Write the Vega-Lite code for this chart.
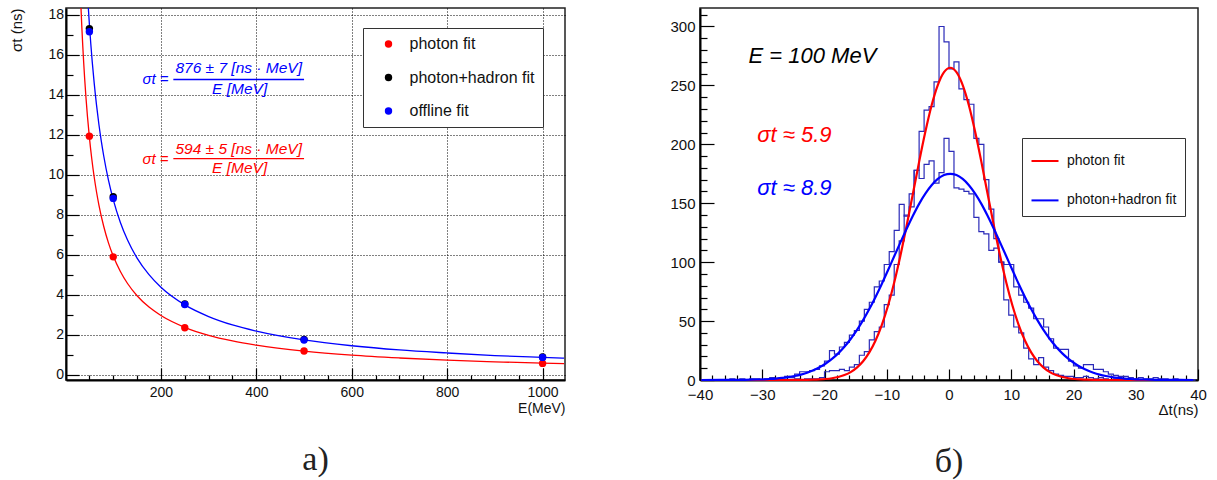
{
"$schema": "https://vega.github.io/schema/vega-lite/v6.json",
"background": "white",
"padding": {"left": 9, "top": 6, "right": 0, "bottom": 0},
"spacing": 103,
"datasets": {
"points": [
{"E":50,"s":11.93,"fit":"photon fit"},{"E":100,"s":5.9,"fit":"photon fit"},{"E":250,"s":2.36,"fit":"photon fit"},{"E":500,"s":1.2,"fit":"photon fit"},{"E":1000,"s":0.58,"fit":"photon fit"},
{"E":50,"s":17.3,"fit":"photon+hadron fit"},{"E":100,"s":8.9,"fit":"photon+hadron fit"},{"E":250,"s":3.55,"fit":"photon+hadron fit"},{"E":500,"s":1.78,"fit":"photon+hadron fit"},{"E":1000,"s":0.9,"fit":"photon+hadron fit"},
{"E":50,"s":17.14,"fit":"offline fit"},{"E":100,"s":8.82,"fit":"offline fit"},{"E":250,"s":3.52,"fit":"offline fit"},{"E":500,"s":1.75,"fit":"offline fit"},{"E":1000,"s":0.88,"fit":"offline fit"}
],
"curves": [
{"E":30,"s":19.8,"fit":"photon fit"},{"E":32,"s":18.56,"fit":"photon fit"},{"E":34,"s":17.47,"fit":"photon fit"},{"E":36,"s":16.5,"fit":"photon fit"},{"E":38,"s":15.63,"fit":"photon fit"},{"E":40,"s":14.85,"fit":"photon fit"},{"E":43,"s":13.81,"fit":"photon fit"},{"E":46,"s":12.91,"fit":"photon fit"},{"E":50,"s":11.88,"fit":"photon fit"},{"E":55,"s":10.8,"fit":"photon fit"},{"E":60,"s":9.9,"fit":"photon fit"},{"E":65,"s":9.14,"fit":"photon fit"},{"E":70,"s":8.49,"fit":"photon fit"},{"E":80,"s":7.43,"fit":"photon fit"},{"E":90,"s":6.6,"fit":"photon fit"},{"E":100,"s":5.94,"fit":"photon fit"},{"E":115,"s":5.17,"fit":"photon fit"},{"E":130,"s":4.57,"fit":"photon fit"},{"E":150,"s":3.96,"fit":"photon fit"},{"E":175,"s":3.39,"fit":"photon fit"},{"E":200,"s":2.97,"fit":"photon fit"},{"E":250,"s":2.38,"fit":"photon fit"},{"E":300,"s":1.98,"fit":"photon fit"},{"E":350,"s":1.7,"fit":"photon fit"},{"E":400,"s":1.49,"fit":"photon fit"},{"E":500,"s":1.19,"fit":"photon fit"},{"E":600,"s":0.99,"fit":"photon fit"},{"E":700,"s":0.85,"fit":"photon fit"},{"E":800,"s":0.74,"fit":"photon fit"},{"E":900,"s":0.66,"fit":"photon fit"},{"E":1000,"s":0.59,"fit":"photon fit"},{"E":1045,"s":0.57,"fit":"photon fit"},
{"E":45,"s":19.47,"fit":"offline fit"},{"E":47,"s":18.64,"fit":"offline fit"},{"E":50,"s":17.52,"fit":"offline fit"},{"E":53,"s":16.53,"fit":"offline fit"},{"E":56,"s":15.64,"fit":"offline fit"},{"E":60,"s":14.6,"fit":"offline fit"},{"E":65,"s":13.48,"fit":"offline fit"},{"E":70,"s":12.51,"fit":"offline fit"},{"E":75,"s":11.68,"fit":"offline fit"},{"E":80,"s":10.95,"fit":"offline fit"},{"E":90,"s":9.73,"fit":"offline fit"},{"E":100,"s":8.76,"fit":"offline fit"},{"E":115,"s":7.62,"fit":"offline fit"},{"E":130,"s":6.74,"fit":"offline fit"},{"E":150,"s":5.84,"fit":"offline fit"},{"E":175,"s":5.01,"fit":"offline fit"},{"E":200,"s":4.38,"fit":"offline fit"},{"E":250,"s":3.5,"fit":"offline fit"},{"E":300,"s":2.92,"fit":"offline fit"},{"E":350,"s":2.5,"fit":"offline fit"},{"E":400,"s":2.19,"fit":"offline fit"},{"E":500,"s":1.75,"fit":"offline fit"},{"E":600,"s":1.46,"fit":"offline fit"},{"E":700,"s":1.25,"fit":"offline fit"},{"E":800,"s":1.1,"fit":"offline fit"},{"E":900,"s":0.97,"fit":"offline fit"},{"E":1000,"s":0.88,"fit":"offline fit"},{"E":1045,"s":0.84,"fit":"offline fit"}
],
"eqlhs": [
{"E":216,"s":14.78,"txt":"σt =","fit":"offline fit"},
{"E":216,"s":10.81,"txt":"σt =","fit":"photon fit"}
],
"eqfrac": [
{"E":363,"s":15.31,"txt":"876 ± 7 [ns · MeV]","fit":"offline fit"},
{"E":365,"s":14.28,"txt":"E [MeV]","fit":"offline fit"},
{"E":363,"s":11.31,"txt":"594 ± 5 [ns · MeV]","fit":"photon fit"},
{"E":365,"s":10.36,"txt":"E [MeV]","fit":"photon fit"}
],
"eqbar": [
{"E":226,"E2":500,"s":14.76,"fit":"offline fit"},
{"E":226,"E2":500,"s":10.81,"fit":"photon fit"}
],
"hist": [
{"t":-39.6,"p":0,"ph":0},{"t":-38.8,"p":0,"ph":0},{"t":-38.0,"p":0,"ph":0},{"t":-37.2,"p":0,"ph":0},{"t":-36.4,"p":0,"ph":0},
{"t":-35.6,"p":0,"ph":0},{"t":-34.8,"p":0,"ph":1},{"t":-34.0,"p":0,"ph":0},{"t":-33.2,"p":0,"ph":1},{"t":-32.4,"p":0,"ph":0},
{"t":-31.6,"p":0,"ph":1},{"t":-30.8,"p":0,"ph":1},{"t":-30.0,"p":0,"ph":0},{"t":-29.2,"p":0,"ph":1},{"t":-28.4,"p":0,"ph":2},
{"t":-27.6,"p":0,"ph":1},{"t":-26.8,"p":0,"ph":2},{"t":-26.0,"p":0,"ph":3},{"t":-25.2,"p":0,"ph":2},{"t":-24.4,"p":1,"ph":5},
{"t":-23.6,"p":0,"ph":7},{"t":-22.8,"p":1,"ph":7},{"t":-22.0,"p":1,"ph":8},{"t":-21.2,"p":1,"ph":9},{"t":-20.4,"p":2,"ph":12},
{"t":-19.6,"p":7,"ph":16},{"t":-18.8,"p":8,"ph":25},{"t":-18.0,"p":8,"ph":22},{"t":-17.2,"p":9,"ph":28},{"t":-16.4,"p":8,"ph":32},
{"t":-15.6,"p":11,"ph":38},{"t":-14.8,"p":13,"ph":42},{"t":-14.0,"p":21,"ph":50},{"t":-13.2,"p":24,"ph":60},{"t":-12.4,"p":34,"ph":66},
{"t":-11.6,"p":41,"ph":79},{"t":-10.8,"p":45,"ph":84},{"t":-10.0,"p":64,"ph":98},{"t":-9.2,"p":72,"ph":109},{"t":-8.4,"p":98,"ph":127},
{"t":-7.6,"p":118,"ph":149},{"t":-6.8,"p":140,"ph":139},{"t":-6.0,"p":158,"ph":147},{"t":-5.2,"p":178,"ph":178},{"t":-4.4,"p":211,"ph":171},
{"t":-3.6,"p":229,"ph":183},{"t":-2.8,"p":232,"ph":186},{"t":-2.0,"p":253,"ph":167},{"t":-1.2,"p":300,"ph":176},{"t":-0.4,"p":287,"ph":205},
{"t":0.4,"p":264,"ph":194},{"t":1.2,"p":270,"ph":163},{"t":2.0,"p":247,"ph":162},{"t":2.8,"p":238,"ph":160},{"t":3.6,"p":234,"ph":158},
{"t":4.4,"p":205,"ph":138},{"t":5.2,"p":200,"ph":126},{"t":6.0,"p":170,"ph":124},{"t":6.8,"p":145,"ph":110},{"t":7.6,"p":120,"ph":112},
{"t":8.4,"p":100,"ph":100},{"t":9.2,"p":68,"ph":98},{"t":10.0,"p":55,"ph":98},{"t":10.8,"p":45,"ph":79},{"t":11.6,"p":40,"ph":72},
{"t":12.4,"p":27,"ph":66},{"t":13.2,"p":18,"ph":61},{"t":14.0,"p":13,"ph":52},{"t":14.8,"p":19,"ph":52},{"t":15.6,"p":11,"ph":45},
{"t":16.4,"p":8,"ph":35},{"t":17.2,"p":5,"ph":27},{"t":18.0,"p":4,"ph":26},{"t":18.8,"p":3,"ph":26},{"t":19.6,"p":3,"ph":16},
{"t":20.4,"p":2,"ph":12},{"t":21.2,"p":2,"ph":10},{"t":22.0,"p":3,"ph":13},{"t":22.8,"p":2,"ph":13},{"t":23.6,"p":1,"ph":9},
{"t":24.4,"p":2,"ph":9},{"t":25.2,"p":1,"ph":7},{"t":26.0,"p":0,"ph":5},{"t":26.8,"p":1,"ph":4},{"t":27.6,"p":0,"ph":3},
{"t":28.4,"p":0,"ph":3},{"t":29.2,"p":0,"ph":2},{"t":30.0,"p":0,"ph":1},{"t":30.8,"p":0,"ph":2},{"t":31.6,"p":0,"ph":1},
{"t":32.4,"p":0,"ph":1},{"t":33.2,"p":0,"ph":2},{"t":34.0,"p":0,"ph":1},{"t":34.8,"p":0,"ph":1},{"t":35.6,"p":0,"ph":0},
{"t":36.4,"p":0,"ph":1},{"t":37.2,"p":0,"ph":0},{"t":38.0,"p":0,"ph":0},{"t":38.8,"p":0,"ph":0},{"t":39.6,"p":0,"ph":0}
],
"gauss": [
{"t":-39.8,"n":0,"fit":"photon fit"},{"t":-27.8,"n":0,"fit":"photon fit"},{"t":-26.8,"n":0,"fit":"photon fit"},{"t":-25.8,"n":0.01,"fit":"photon fit"},{"t":-24.8,"n":0.03,"fit":"photon fit"},{"t":-23.8,"n":0.07,"fit":"photon fit"},{"t":-22.8,"n":0.13,"fit":"photon fit"},{"t":-21.8,"n":0.25,"fit":"photon fit"},{"t":-20.8,"n":0.47,"fit":"photon fit"},{"t":-19.8,"n":0.85,"fit":"photon fit"},{"t":-18.8,"n":1.5,"fit":"photon fit"},{"t":-17.8,"n":2.5,"fit":"photon fit"},{"t":-16.8,"n":4.2,"fit":"photon fit"},{"t":-15.8,"n":6.7,"fit":"photon fit"},{"t":-14.8,"n":10.5,"fit":"photon fit"},{"t":-13.8,"n":15.9,"fit":"photon fit"},{"t":-12.8,"n":23.4,"fit":"photon fit"},{"t":-11.8,"n":33.5,"fit":"photon fit"},{"t":-10.8,"n":46.6,"fit":"photon fit"},{"t":-9.8,"n":63.0,"fit":"photon fit"},{"t":-8.8,"n":82.8,"fit":"photon fit"},{"t":-7.8,"n":105.7,"fit":"photon fit"},{"t":-6.8,"n":131.1,"fit":"photon fit"},{"t":-5.8,"n":158.0,"fit":"photon fit"},{"t":-4.8,"n":185.1,"fit":"photon fit"},{"t":-3.8,"n":210.6,"fit":"photon fit"},{"t":-2.8,"n":232.9,"fit":"photon fit"},{"t":-1.8,"n":250.2,"fit":"photon fit"},{"t":-0.8,"n":261.2,"fit":"photon fit"},{"t":0.2,"n":265,"fit":"photon fit"},{"t":1.2,"n":261.2,"fit":"photon fit"},{"t":2.2,"n":250.2,"fit":"photon fit"},{"t":3.2,"n":232.9,"fit":"photon fit"},{"t":4.2,"n":210.6,"fit":"photon fit"},{"t":5.2,"n":185.1,"fit":"photon fit"},{"t":6.2,"n":158.0,"fit":"photon fit"},{"t":7.2,"n":131.1,"fit":"photon fit"},{"t":8.2,"n":105.7,"fit":"photon fit"},{"t":9.2,"n":82.8,"fit":"photon fit"},{"t":10.2,"n":63.0,"fit":"photon fit"},{"t":11.2,"n":46.6,"fit":"photon fit"},{"t":12.2,"n":33.5,"fit":"photon fit"},{"t":13.2,"n":23.4,"fit":"photon fit"},{"t":14.2,"n":15.9,"fit":"photon fit"},{"t":15.2,"n":10.5,"fit":"photon fit"},{"t":16.2,"n":6.7,"fit":"photon fit"},{"t":17.2,"n":4.2,"fit":"photon fit"},{"t":18.2,"n":2.5,"fit":"photon fit"},{"t":19.2,"n":1.5,"fit":"photon fit"},{"t":20.2,"n":0.85,"fit":"photon fit"},{"t":21.2,"n":0.47,"fit":"photon fit"},{"t":22.2,"n":0.25,"fit":"photon fit"},{"t":23.2,"n":0.13,"fit":"photon fit"},{"t":24.2,"n":0.07,"fit":"photon fit"},{"t":25.2,"n":0.03,"fit":"photon fit"},{"t":26.2,"n":0.01,"fit":"photon fit"},{"t":27.2,"n":0,"fit":"photon fit"},{"t":28.2,"n":0,"fit":"photon fit"},{"t":39.2,"n":0,"fit":"photon fit"},
{"t":-39.8,"n":0,"fit":"photon+hadron fit"},{"t":-36.8,"n":0.03,"fit":"photon+hadron fit"},{"t":-35.8,"n":0.05,"fit":"photon+hadron fit"},{"t":-34.8,"n":0.08,"fit":"photon+hadron fit"},{"t":-33.8,"n":0.12,"fit":"photon+hadron fit"},{"t":-32.8,"n":0.18,"fit":"photon+hadron fit"},{"t":-31.8,"n":0.27,"fit":"photon+hadron fit"},{"t":-30.8,"n":0.41,"fit":"photon+hadron fit"},{"t":-29.8,"n":0.6,"fit":"photon+hadron fit"},{"t":-28.8,"n":0.87,"fit":"photon+hadron fit"},{"t":-27.8,"n":1.24,"fit":"photon+hadron fit"},{"t":-26.8,"n":1.76,"fit":"photon+hadron fit"},{"t":-25.8,"n":2.45,"fit":"photon+hadron fit"},{"t":-24.8,"n":3.39,"fit":"photon+hadron fit"},{"t":-23.8,"n":4.61,"fit":"photon+hadron fit"},{"t":-22.8,"n":6.21,"fit":"photon+hadron fit"},{"t":-21.8,"n":8.25,"fit":"photon+hadron fit"},{"t":-20.8,"n":10.8,"fit":"photon+hadron fit"},{"t":-19.8,"n":14.0,"fit":"photon+hadron fit"},{"t":-18.8,"n":17.9,"fit":"photon+hadron fit"},{"t":-17.8,"n":22.6,"fit":"photon+hadron fit"},{"t":-16.8,"n":28.2,"fit":"photon+hadron fit"},{"t":-15.8,"n":34.8,"fit":"photon+hadron fit"},{"t":-14.8,"n":42.3,"fit":"photon+hadron fit"},{"t":-13.8,"n":50.8,"fit":"photon+hadron fit"},{"t":-12.8,"n":60.2,"fit":"photon+hadron fit"},{"t":-11.8,"n":70.5,"fit":"photon+hadron fit"},{"t":-10.8,"n":81.5,"fit":"photon+hadron fit"},{"t":-9.8,"n":93.1,"fit":"photon+hadron fit"},{"t":-8.8,"n":105.0,"fit":"photon+hadron fit"},{"t":-7.8,"n":116.8,"fit":"photon+hadron fit"},{"t":-6.8,"n":128.4,"fit":"photon+hadron fit"},{"t":-5.8,"n":139.4,"fit":"photon+hadron fit"},{"t":-4.8,"n":149.5,"fit":"photon+hadron fit"},{"t":-3.8,"n":158.2,"fit":"photon+hadron fit"},{"t":-2.8,"n":165.3,"fit":"photon+hadron fit"},{"t":-1.8,"n":170.6,"fit":"photon+hadron fit"},{"t":-0.8,"n":173.9,"fit":"photon+hadron fit"},{"t":0.2,"n":175,"fit":"photon+hadron fit"},{"t":1.2,"n":173.9,"fit":"photon+hadron fit"},{"t":2.2,"n":170.6,"fit":"photon+hadron fit"},{"t":3.2,"n":165.3,"fit":"photon+hadron fit"},{"t":4.2,"n":158.2,"fit":"photon+hadron fit"},{"t":5.2,"n":149.5,"fit":"photon+hadron fit"},{"t":6.2,"n":139.4,"fit":"photon+hadron fit"},{"t":7.2,"n":128.4,"fit":"photon+hadron fit"},{"t":8.2,"n":116.8,"fit":"photon+hadron fit"},{"t":9.2,"n":105.0,"fit":"photon+hadron fit"},{"t":10.2,"n":93.1,"fit":"photon+hadron fit"},{"t":11.2,"n":81.5,"fit":"photon+hadron fit"},{"t":12.2,"n":70.5,"fit":"photon+hadron fit"},{"t":13.2,"n":60.2,"fit":"photon+hadron fit"},{"t":14.2,"n":50.8,"fit":"photon+hadron fit"},{"t":15.2,"n":42.3,"fit":"photon+hadron fit"},{"t":16.2,"n":34.8,"fit":"photon+hadron fit"},{"t":17.2,"n":28.2,"fit":"photon+hadron fit"},{"t":18.2,"n":22.6,"fit":"photon+hadron fit"},{"t":19.2,"n":17.9,"fit":"photon+hadron fit"},{"t":20.2,"n":14.0,"fit":"photon+hadron fit"},{"t":21.2,"n":10.8,"fit":"photon+hadron fit"},{"t":22.2,"n":8.25,"fit":"photon+hadron fit"},{"t":23.2,"n":6.21,"fit":"photon+hadron fit"},{"t":24.2,"n":4.61,"fit":"photon+hadron fit"},{"t":25.2,"n":3.39,"fit":"photon+hadron fit"},{"t":26.2,"n":2.45,"fit":"photon+hadron fit"},{"t":27.2,"n":1.76,"fit":"photon+hadron fit"},{"t":28.2,"n":1.24,"fit":"photon+hadron fit"},{"t":29.2,"n":0.87,"fit":"photon+hadron fit"},{"t":30.2,"n":0.6,"fit":"photon+hadron fit"},{"t":31.2,"n":0.41,"fit":"photon+hadron fit"},{"t":32.2,"n":0.27,"fit":"photon+hadron fit"},{"t":33.2,"n":0.18,"fit":"photon+hadron fit"},{"t":34.2,"n":0.12,"fit":"photon+hadron fit"},{"t":35.2,"n":0.08,"fit":"photon+hadron fit"},{"t":36.2,"n":0.05,"fit":"photon+hadron fit"},{"t":37.2,"n":0.03,"fit":"photon+hadron fit"},{"t":39.2,"n":0,"fit":"photon+hadron fit"}
],
"notes": [
{"t":-32.2,"n":274.7,"txt":"E = 100 MeV","fit":"none"},
{"t":-30.8,"n":208.2,"txt":"σt ≈ 5.9","fit":"photon fit"},
{"t":-30.8,"n":162.8,"txt":"σt ≈ 8.9","fit":"photon+hadron fit"}
]
},
"hconcat": [
{
"width": 499, "height": 372,
"title": {"text": "а)", "orient": "bottom", "anchor": "middle", "font": "Liberation Serif", "fontSize": 34, "fontWeight": "normal", "color": "#222", "offset": 27},
"encoding": {
"x": {"field": "E", "type": "quantitative", "scale": {"domain": [1, 1047], "nice": false, "zero": false},
"axis": {"title": "E(MeV)", "titleAnchor": "end", "titleFontSize": 14, "titlePadding": -5, "labelFontSize": 14, "format": "d", "labelPadding": 17.5,
"values": [50,100,150,200,250,300,350,400,450,500,550,600,650,700,750,800,850,900,950,1000],
"labelExpr": "datum.value % 200 === 0 ? datum.label : ''",
"tickSize": {"condition": {"test": "datum.value % 200 === 0", "value": -12}, "value": -5},
"grid": true, "gridColor": "#000", "gridDash": [1, 2], "gridWidth": 1,
"gridOpacity": {"condition": {"test": "datum.value % 200 === 0", "value": 1}, "value": 0}}},
"y": {"field": "s", "type": "quantitative", "scale": {"domain": [-0.25, 18.33], "nice": false, "zero": false},
"axis": {"title": "σt (ns)", "titleAnchor": "end", "titleFontSize": 15, "titlePadding": 23, "labelFontSize": 14, "format": "d", "labelPadding": 15.5,
"values": [0,0.5,1,1.5,2,2.5,3,3.5,4,4.5,5,5.5,6,6.5,7,7.5,8,8.5,9,9.5,10,10.5,11,11.5,12,12.5,13,13.5,14,14.5,15,15.5,16,16.5,17,17.5,18],
"labelExpr": "datum.value % 2 === 0 ? datum.label : ''",
"tickSize": {"condition": {"test": "datum.value % 2 === 0", "value": -13}, "value": -7},
"grid": true, "gridColor": "#000", "gridDash": [1, 2], "gridWidth": 1,
"gridOpacity": {"condition": {"test": "datum.value % 2 === 0", "value": 1}, "value": 0}}}
},
"layer": [
{"data": {"name": "curves"}, "transform": [{"filter": "datum.fit === 'photon fit'"}], "mark": {"type": "line", "interpolate": "monotone", "strokeWidth": 1.3, "clip": true, "color": "#ff0000"}},
{"data": {"name": "curves"}, "transform": [{"filter": "datum.fit === 'offline fit'"}], "mark": {"type": "line", "interpolate": "monotone", "strokeWidth": 1.3, "clip": true, "color": "#0000ff"}},
{"data": {"name": "eqbar"}, "transform": [{"filter": "datum.fit === 'photon fit'"}], "mark": {"type": "rule", "strokeWidth": 1.3, "color": "#ff0000"}, "encoding": {"x2": {"field": "E2"}}},
{"data": {"name": "eqbar"}, "transform": [{"filter": "datum.fit === 'offline fit'"}], "mark": {"type": "rule", "strokeWidth": 1.3, "color": "#0000ff"}, "encoding": {"x2": {"field": "E2"}}},
{"data": {"name": "eqlhs"}, "transform": [{"filter": "datum.fit === 'photon fit'"}], "mark": {"type": "text", "align": "right", "baseline": "middle", "font": "Liberation Sans", "fontSize": 15, "fontStyle": "italic", "color": "#ff0000"}, "encoding": {"text": {"field": "txt"}}},
{"data": {"name": "eqlhs"}, "transform": [{"filter": "datum.fit === 'offline fit'"}], "mark": {"type": "text", "align": "right", "baseline": "middle", "font": "Liberation Sans", "fontSize": 15, "fontStyle": "italic", "color": "#0000ff"}, "encoding": {"text": {"field": "txt"}}},
{"data": {"name": "eqfrac"}, "transform": [{"filter": "datum.fit === 'photon fit'"}], "mark": {"type": "text", "align": "center", "baseline": "middle", "font": "Liberation Sans", "fontSize": 15.5, "fontStyle": "italic", "color": "#ff0000"}, "encoding": {"text": {"field": "txt"}}},
{"data": {"name": "eqfrac"}, "transform": [{"filter": "datum.fit === 'offline fit'"}], "mark": {"type": "text", "align": "center", "baseline": "middle", "font": "Liberation Sans", "fontSize": 15.5, "fontStyle": "italic", "color": "#0000ff"}, "encoding": {"text": {"field": "txt"}}},
{"data": {"name": "points"}, "mark": {"type": "circle", "size": 55, "opacity": 1},
"encoding": {"color": {"field": "fit", "type": "nominal", "sort": null,
"scale": {"domain": ["photon fit", "photon+hadron fit", "offline fit"], "range": ["#ff0000", "#000000", "#0000ff"]},
"legend": {"orient": "none", "legendX": 297, "legendY": 20, "title": null, "strokeColor": "#333", "fillColor": "#ffffff", "padding": 8, "rowPadding": 17.5, "symbolOffset": 9.5, "labelOffset": 13, "labelFontSize": 16, "labelFont": "Liberation Sans", "labelColor": "#111", "symbolSize": 55, "symbolType": "circle", "symbolStrokeWidth": 0, "labelLimit": 300}}}}
]
},
{
"width": 498, "height": 372,
"title": {"text": "б)", "orient": "bottom", "anchor": "middle", "font": "Liberation Serif", "fontSize": 34, "fontWeight": "normal", "color": "#222", "offset": 27},
"encoding": {
"x": {"field": "t", "type": "quantitative", "scale": {"domain": [-40, 40], "nice": false, "zero": false},
"axis": {"title": "Δt(ns)", "titleAnchor": "end", "titleFontSize": 15, "titlePadding": -6, "labelFontSize": 15, "format": "d", "labelPadding": 18.5,
"values": [-40,-38,-36,-34,-32,-30,-28,-26,-24,-22,-20,-18,-16,-14,-12,-10,-8,-6,-4,-2,0,2,4,6,8,10,12,14,16,18,20,22,24,26,28,30,32,34,36,38,40],
"labelExpr": "datum.value % 10 === 0 ? datum.label : ''",
"tickSize": {"condition": {"test": "datum.value % 10 === 0", "value": -11}, "value": -5}}},
"y": {"field": "n", "type": "quantitative", "scale": {"domain": [0, 315.7], "nice": false, "zero": false},
"axis": {"title": null, "labelFontSize": 15, "format": "d", "labelPadding": 19,
"values": [0,10,20,30,40,50,60,70,80,90,100,110,120,130,140,150,160,170,180,190,200,210,220,230,240,250,260,270,280,290,300,310],
"labelExpr": "datum.value % 50 === 0 ? datum.label : ''",
"tickSize": {"condition": {"test": "datum.value % 50 === 0", "value": -14}, "value": -7}}}
},
"layer": [
{"data": {"name": "hist"}, "transform": [{"fold": ["p", "ph"], "as": ["h", "n"]}],
"mark": {"type": "line", "interpolate": "step", "color": "#2b2bb8", "strokeWidth": 1.2},
"encoding": {"detail": {"field": "h", "type": "nominal"}}},
{"data": {"name": "gauss"}, "mark": {"type": "line", "interpolate": "monotone", "strokeWidth": 2.2},
"encoding": {"color": {"field": "fit", "type": "nominal",
"scale": {"domain": ["photon fit", "photon+hadron fit"], "range": ["#ff0000", "#0000ff"]},
"legend": {"orient": "none", "legendX": 322, "legendY": 130, "title": null, "strokeColor": "#333", "fillColor": "#ffffff", "padding": 8.5, "rowPadding": 17.4, "symbolType": "stroke", "symbolSize": 729, "symbolStrokeWidth": 2, "labelOffset": 7.5, "labelFontSize": 14, "labelFont": "Liberation Sans", "labelColor": "#111", "labelLimit": 300}}}},
{"data": {"name": "notes"}, "transform": [{"filter": "datum.fit === 'none'"}],
"mark": {"type": "text", "align": "left", "baseline": "middle", "font": "Liberation Sans", "fontSize": 22, "fontStyle": "italic", "color": "#000"},
"encoding": {"text": {"field": "txt"}}},
{"data": {"name": "notes"}, "transform": [{"filter": "datum.fit === 'photon fit'"}],
"mark": {"type": "text", "align": "left", "baseline": "middle", "font": "Liberation Sans", "fontSize": 22, "fontStyle": "italic", "color": "#ff0000"},
"encoding": {"text": {"field": "txt"}}},
{"data": {"name": "notes"}, "transform": [{"filter": "datum.fit === 'photon+hadron fit'"}],
"mark": {"type": "text", "align": "left", "baseline": "middle", "font": "Liberation Sans", "fontSize": 22, "fontStyle": "italic", "color": "#0000ff"},
"encoding": {"text": {"field": "txt"}}}
]
}
],
"resolve": {"scale": {"color": "independent"}, "legend": {"color": "independent"}},
"config": {
"view": {"stroke": "#222", "strokeWidth": 1.5},
"axis": {"labelFont": "Liberation Sans", "titleFont": "Liberation Sans", "labelColor": "#111", "titleColor": "#111", "domainColor": "#000", "domainWidth": 2, "tickColor": "#000", "tickWidth": 1.2, "titleFontWeight": "normal", "labelFlush": false, "labelOverlap": false, "grid": false}
}
}
